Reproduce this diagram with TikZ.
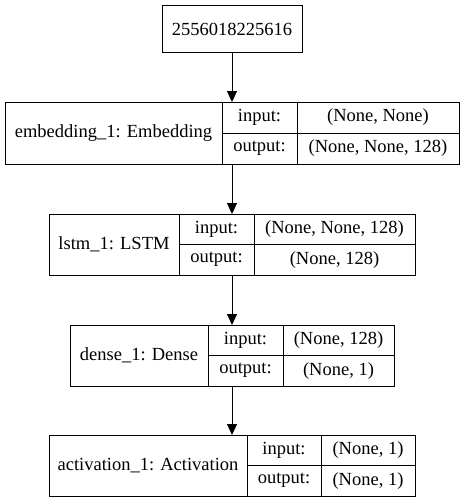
\documentclass[tikz,border=0pt]{standalone}
\usepackage{fontspec}
\setmainfont{Liberation Serif}
\usetikzlibrary{arrows.meta}
\tikzset{
  cell/.style={draw=black, line width=1pt, inner sep=0pt, outer sep=0pt, font=\fontsize{18.5}{22}\selectfont},
  frame/.style={draw=black, line width=1pt, inner sep=0pt, outer sep=0pt},
  arr/.style={draw=black, line width=1pt, -{Triangle[length=11pt,width=10pt]}}
}
\newcommand\cellbox[7][cell]{%
  \node[#1, minimum width={(#5-#3)*1pt}, minimum height={(#6-#4)*1pt}] (#2) at ({(#3+#5)/2},{(#4+#6)/2}) {#7};}
\begin{document}
\begin{tikzpicture}[x=1pt,y=-1pt]
\useasboundingbox (0,0) rectangle (464,503);
% top node
\cellbox{top}{162}{6}{302}{53}{2556018225616}
% embedding
\cellbox[frame]{emb}{5}{102}{459}{164}{}
\cellbox{embN}{5}{102}{222}{164}{embedding\_1: Embedding}
\cellbox{embIL}{222}{102}{297}{133}{input:}
\cellbox{embOL}{222}{133}{297}{164}{output:}
\cellbox{embIV}{297}{102}{459}{133}{(None, None)}
\cellbox{embOV}{297}{133}{459}{164}{(None, None, 128)}
% lstm
\cellbox[frame]{lstm}{49}{214}{415}{275}{}
\cellbox{lstmN}{49}{214}{179}{275}{lstm\_1: LSTM}
\cellbox{lstmIL}{179}{214}{254}{244.5}{input:}
\cellbox{lstmOL}{179}{244.5}{254}{275}{output:}
\cellbox{lstmIV}{254}{214}{415}{244.5}{(None, None, 128)}
\cellbox{lstmOV}{254}{244.5}{415}{275}{(None, 128)}
% dense
\cellbox[frame]{dense}{70}{325}{394}{386}{}
\cellbox{denseN}{70}{325}{208}{386}{dense\_1: Dense}
\cellbox{denseIL}{208}{325}{283}{355.5}{input:}
\cellbox{denseOL}{208}{355.5}{283}{386}{output:}
\cellbox{denseIV}{283}{325}{394}{355.5}{(None, 128)}
\cellbox{denseOV}{283}{355.5}{394}{386}{(None, 1)}
% activation
\cellbox[frame]{act}{49}{435}{415}{496}{}
\cellbox{actN}{49}{435}{247}{496}{activation\_1: Activation}
\cellbox{actIL}{247}{435}{321}{465.5}{input:}
\cellbox{actOL}{247}{465.5}{321}{496}{output:}
\cellbox{actIV}{321}{435}{415}{465.5}{(None, 1)}
\cellbox{actOV}{321}{465.5}{415}{496}{(None, 1)}
% arrows
\draw[arr] (top.south) -- (emb.north);
\draw[arr] (emb.south) -- (lstm.north);
\draw[arr] (lstm.south) -- (dense.north);
\draw[arr] (dense.south) -- (act.north);
\end{tikzpicture}
\end{document}
